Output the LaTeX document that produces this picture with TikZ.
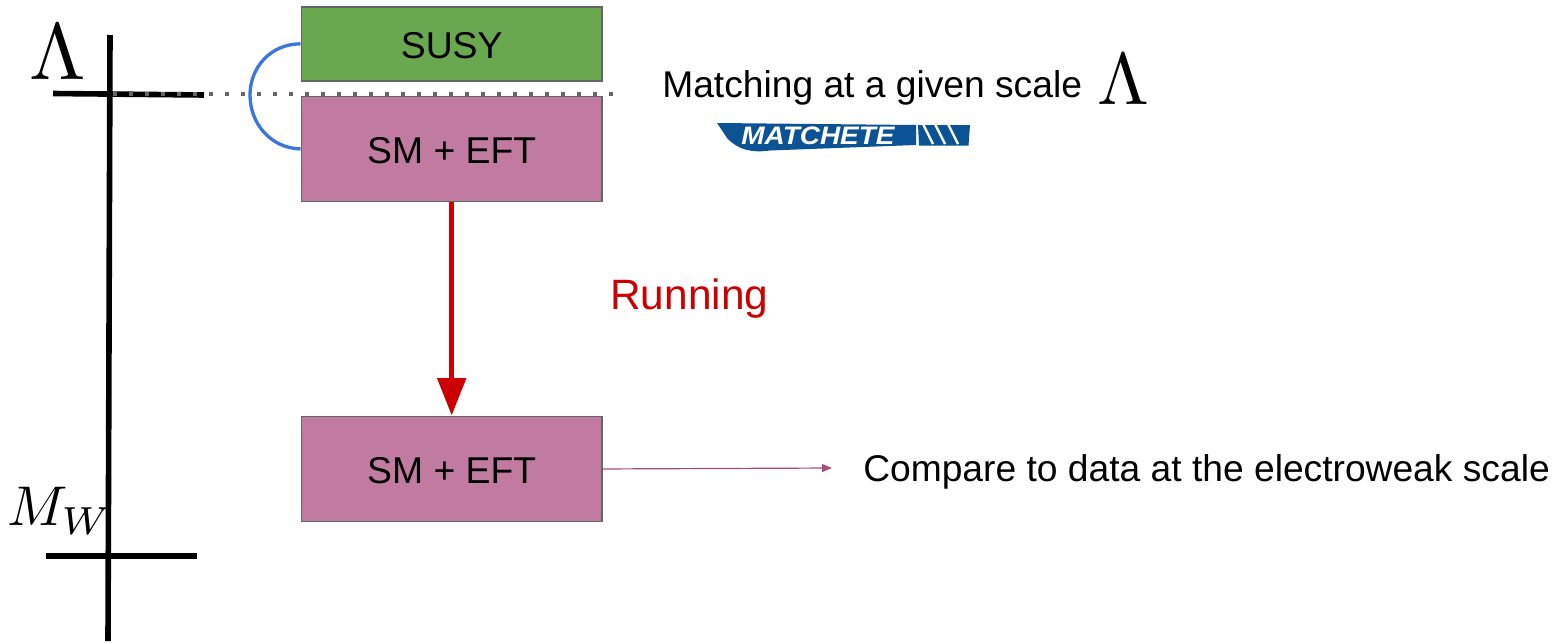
\documentclass[tikz,border=0pt]{standalone}
\usepackage{fontspec}
\setmainfont{Liberation Sans}
\usetikzlibrary{arrows.meta}
\definecolor{boxgreen}{HTML}{6AA84F}
\definecolor{boxpink}{HTML}{C27BA0}
\definecolor{boxedge}{HTML}{666666}
\definecolor{arcblue}{HTML}{3C78D8}
\definecolor{runred}{HTML}{CC0000}
\definecolor{cmpline}{HTML}{A64D79}
\definecolor{logoblue}{HTML}{0B5394}
\tikzset{
  x=0.75pt,y=-0.75pt,
  box/.style={draw=boxedge,line width=1.2pt,minimum width=225.6pt,inner sep=0pt,text height=21.5pt,text depth=0pt,font=\fontsize{28}{32}\selectfont,text=black,anchor=north west},
  scaleline/.style={line width=4.2pt,black},
  lbl/.style={inner sep=0pt,font=\fontsize{27.9}{32}\selectfont,text=black},
  mathlbl/.style={inner sep=0pt,text=black}
}
\begin{document}
\begin{tikzpicture}
\useasboundingbox (0,0) rectangle (1555,643);
% scale axis
\coordinate (axt) at (110,35);
\coordinate (axb) at (108,641);
\coordinate (lal) at (53,93.5);
\coordinate (lar) at (204,95);
\coordinate (mwl) at (46,556);
\coordinate (mwr) at (197,556);
\draw[scaleline] (axt) -- (axb);
\draw[scaleline] (lal) -- (lar);
\draw[scaleline] (mwl) -- (mwr);
% boxes
\node[box,fill=boxgreen,minimum height=55.5pt] (susy) at (300.5,6) {SUSY};
\node[box,fill=boxpink,minimum height=79pt] (eft1) at (300.5,95.5) {SM + EFT};
\node[box,fill=boxpink,minimum height=79pt] (eft2) at (300.5,415.5) {SM + EFT};
% dotted matching line
\coordinate (dotl) at (113,94);
\coordinate (dotr) at (615,94);
\draw[boxedge,line width=3pt,dash pattern=on 3pt off 9pt] (dotl) -- (dotr);
% arc
\draw[arcblue,line width=2.5pt] (susy.west) .. controls (270,44) and (250,68) .. (250,95) .. controls (250,123) and (270,148) .. (eft1.west);
% running arrow
\draw[runred,line width=3.8pt,-{Triangle[length=28pt,width=21pt]}] (eft1.south) -- (eft2.north);
% compare arrow
\node[lbl,anchor=west] (cmp) at (863,472) {Compare to data at the electroweak scale};
\coordinate (cmpend) at (832,468);
\draw[cmpline,line width=0.9pt,-{Triangle[length=7.5pt,width=6pt]}] (eft2.east) -- (cmpend);
% labels
\node[lbl,anchor=west,text=runred,font=\fontsize{31.8}{36}\selectfont] (run) at (610,298.5) {Running};
\node[lbl,anchor=west] (match) at (662,88) {Matching at a given scale};
\node[mathlbl,anchor=center] (lam2) at (1123,79) {\scalebox{5.6}[5.5]{$\Lambda$}};
\node[mathlbl,anchor=center] (lam1) at (57.5,52) {\scalebox{6.1}[6.0]{$\Lambda$}};
\node[mathlbl,anchor=center] (mw) at (60,511) {\scalebox{4.2}[4.2]{$M_W$}};
% logo
\fill[logoblue] (717,123) -- (916,125) -- (916,145) -- (770,150.5) .. controls (752,153) and (738,150) .. (727,138) -- cycle;
\fill[logoblue] (918,125) -- (970,125) -- (968.5,145.5) -- (919,145.5) -- cycle;
\draw[white,line width=1.8pt] (923,124) -- (933,144);
\draw[white,line width=1.8pt] (935,124) -- (945,144);
\draw[white,line width=1.8pt] (948,124) -- (958,144);
\node[inner sep=0pt,text=white,anchor=center] (logo) at (818,136) {\scalebox{1.27}[1.15]{\fontsize{16.5}{18}\selectfont\bfseries\itshape MATCHETE}};
\end{tikzpicture}
\end{document}
